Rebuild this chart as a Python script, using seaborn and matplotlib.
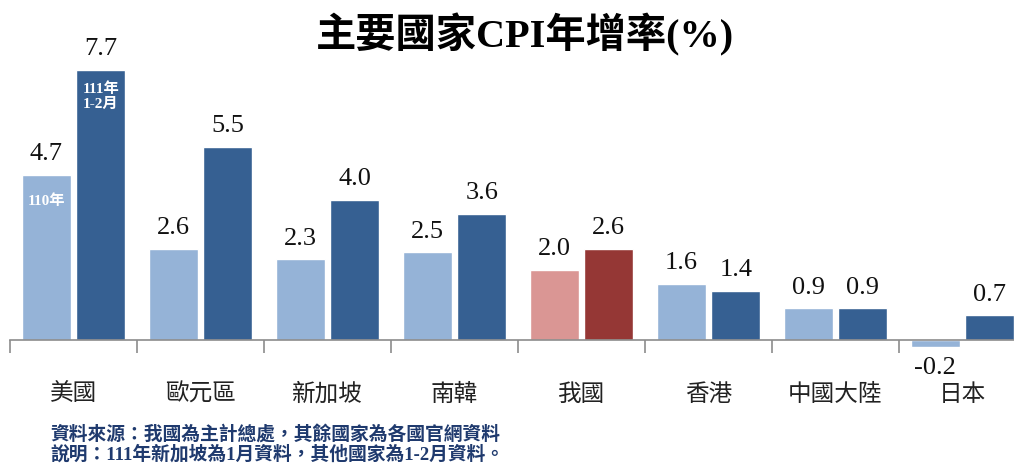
import pandas as pd
import matplotlib.pyplot as plt
import seaborn as sns

# data
countries = ["美國", "歐元區", "新加坡", "南韓", "我國", "香港", "中國大陸", "日本"]
cpi_110 = [4.7, 2.6, 2.3, 2.5, 2.0, 1.6, 0.9, -0.2]
cpi_111 = [7.7, 5.5, 4.0, 3.6, 2.6, 1.4, 0.9, 0.7]
periods = ["110年", "111年1-2月"]

df = pd.DataFrame({
    "country": countries * 2,
    "period": [periods[0]] * len(countries) + [periods[1]] * len(countries),
    "cpi": cpi_110 + cpi_111,
})

light_blue, dark_blue = "#95b3d7", "#366092"
light_red, dark_red = "#da9694", "#953735"

sns.set_style("white")
plt.rcParams["font.family"] = ["Noto Sans CJK TC", "DejaVu Sans"]

fig = plt.figure(figsize=(10.14, 4.65), dpi=100)
ax = fig.add_axes([10 / 1014, 90 / 465, 1016 / 1014, 333 / 465])

sns.barplot(data=df, x="country", y="cpi", hue="period", hue_order=periods,
            palette=[light_blue, dark_blue], width=0.86, gap=0.1,
            saturation=1, legend=False, ax=ax)

# 我國 is drawn in red
ax.containers[0][4].set_facecolor(light_red)
ax.containers[1][4].set_facecolor(dark_red)

for cont in ax.containers:
    ax.bar_label(cont, fmt="%.1f", padding=7, fontsize=19,
                 family="Liberation Serif", color="#111111")

ax.set_xlim(-0.5, 7.5)
ax.set_ylim(-1, 8.5)
ax.set_xlabel("")
ax.set_ylabel("")
ax.set_yticks([])

for side in ["top", "right", "left"]:
    ax.spines[side].set_visible(False)
ax.spines["bottom"].set_position(("data", 0))
ax.spines["bottom"].set_color("#8c8c8c")
ax.spines["bottom"].set_linewidth(1.2)

ax.set_xticks(range(len(countries)))
ax.set_xticklabels(countries, fontsize=17, color="#222222")
ax.tick_params(axis="x", which="major", length=0, pad=31)
ax.set_xticks([i - 0.5 for i in range(len(countries) + 1)], minor=True)
ax.tick_params(axis="x", which="minor", bottom=True, length=9, width=1.2,
               color="#8c8c8c", direction="out")

# period notes inside the US bars
us_light = ax.containers[0][0]
us_dark = ax.containers[1][0]
ax.text(us_light.get_x() + us_light.get_width() / 2, 3.95, "110年",
        ha="center", va="center", color="white", fontsize=11, fontweight="bold",
        family=["Liberation Serif", "Noto Sans CJK TC"])
ax.text(us_dark.get_x() + us_dark.get_width() / 2, 6.95, "111年\n1-2月",
        ha="center", va="center", color="white", fontsize=11, fontweight="bold",
        linespacing=1.15, family=["Liberation Serif", "Noto Sans CJK TC"])

fig.text(0.518, 0.925, "主要國家CPI年增率(%)", ha="center", va="center",
         fontsize=29, fontweight="bold", color="black",
         family=["Liberation Serif", "Noto Sans CJK TC"])

fig.text(50 / 1014, 1 - 434 / 465, "資料來源：我國為主計總處，其餘國家為各國官網資料",
         ha="left", va="center", fontsize=13.5, fontweight="bold", color="#1f3a6e",
         family=["Liberation Serif", "Noto Sans CJK TC"])
fig.text(50 / 1014, 1 - 454 / 465, "說明：111年新加坡為1月資料，其他國家為1-2月資料。",
         ha="left", va="center", fontsize=13.5, fontweight="bold", color="#1f3a6e",
         family=["Liberation Serif", "Noto Sans CJK TC"])

fig.savefig("out.png", dpi=100, facecolor="white")
